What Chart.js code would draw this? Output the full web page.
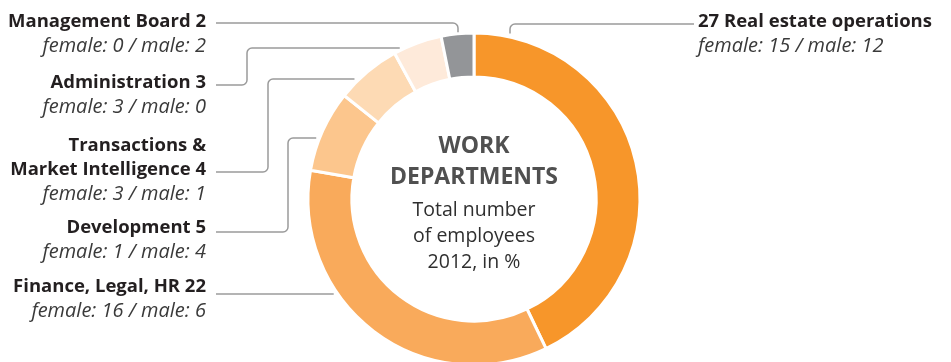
<!DOCTYPE html>
<html>
<head>
<meta charset="utf-8">
<title>Work departments</title>
<script src="https://cdn.jsdelivr.net/npm/chart.js@4.4.0/dist/chart.umd.min.js"></script>
<style>
	html, body { margin: 0; padding: 0; background: #fff; overflow: hidden; }
	canvas { display: block; }
</style>
</head>
<body>
<canvas id="depts" width="951" height="400"></canvas>
<script>
	// employees per department, clockwise from the top
	var departments = ['Real estate operations', 'Finance, Legal, HR', 'Development', 'Transactions & Market Intelligence', 'Administration', 'Management Board'];
	var employees = [27, 22, 5, 4, 3, 2];
	var female = [15, 16, 1, 3, 3, 0];
	var male = [12, 6, 4, 1, 0, 2];
	var sliceColors = ['#f7962a', '#f9aa5b', '#fcc68d', '#fddab4', '#feeada', '#939598'];

	var centerTitle = ['WORK', 'DEPARTMENTS'];
	var centerText = ['Total number', 'of employees', '2012, in %'];

	var BOLD = '700 18.5px "Open Sans"';
	var ITALIC = 'italic 20px "Open Sans"';
	var LINE = '#9b9b9b';

	function edgeX(c, y) { return c.x - Math.sqrt(c.r * c.r - (y - c.y) * (y - c.y)); }
	function edgeY(c, x) { return c.y - Math.sqrt(c.r * c.r - (x - c.x) * (x - c.x)); }

	// label block and leader line for each slice
	function labelLayout(c)
	{
		return [
			{ align: 'left', x: 698, y: 27, lines: [employees[0] + ' ' + departments[0]],
			  path: [[694, 24], [510, 24], [510, edgeY(c, 510) - 5]] },
			{ align: 'right', x: 206, y: 292, lines: [departments[1] + ' ' + employees[1]],
			  path: [[216, 294], [edgeX(c, 294) - 6, 294]] },
			{ align: 'right', x: 206, y: 233, lines: [departments[2] + ' ' + employees[2]],
			  path: [[216, 232], [288, 232], [288, 138], [edgeX(c, 138) - 5, 138]] },
			{ align: 'right', x: 206, y: 151, lines: ['Transactions &', 'Market Intelligence ' + employees[3]],
			  path: [[216, 172], [268, 172], [268, 79], [edgeX(c, 79) - 7, 79]] },
			{ align: 'right', x: 206, y: 88, lines: [departments[4] + ' ' + employees[4]],
			  path: [[216, 85], [247, 85], [247, 48], [edgeX(c, 48) - 9, 48]] },
			{ align: 'right', x: 206, y: 27, lines: [departments[5] + ' ' + employees[5]],
			  path: [[216, 23], [458, 23], [458, edgeY(c, 458) - 3]] }
		];
	}

	function drawPath(ctx, p)
	{
		ctx.beginPath();
		ctx.moveTo(p[0][0], p[0][1]);
		for (var i = 1; i < p.length - 1; i++)
			ctx.arcTo(p[i][0], p[i][1], p[i + 1][0], p[i + 1][1], 5);
		ctx.lineTo(p[p.length - 1][0], p[p.length - 1][1]);
		ctx.stroke();
	}

	var deptLabels =
	{
		id: 'deptLabels',
		afterDraw: function(chart)
		{
			var ctx = chart.ctx;
			var arc = chart.getDatasetMeta(0).data[0];
			var c = { x: arc.x, y: arc.y, r: arc.outerRadius - 1.5 };
			var layout = labelLayout(c);

			ctx.save();
			ctx.strokeStyle = LINE;
			ctx.lineWidth = 1.5;
			ctx.textBaseline = 'alphabetic';
			for (var i = 0; i < layout.length; i++)
			{
				var l = layout[i];
				drawPath(ctx, l.path);
				ctx.textAlign = l.align;
				ctx.font = BOLD;
				ctx.fillStyle = '#231f20';
				for (var j = 0; j < l.lines.length; j++)
					ctx.fillText(l.lines[j], l.x, l.y + j * 24);
				ctx.font = ITALIC;
				ctx.fillStyle = '#3a3a3a';
				ctx.fillText('female: ' + female[i] + ' / male: ' + male[i], l.x, l.y + l.lines.length * 24 + 1);
			}

			// text in the hole
			ctx.textAlign = 'center';
			ctx.font = '700 23px "Open Sans"';
			ctx.fillStyle = '#505050';
			ctx.fillText(centerTitle[0], c.x, c.y - 46);
			ctx.fillText(centerTitle[1], c.x, c.y - 15);
			ctx.font = '19.5px "Open Sans"';
			ctx.fillStyle = '#2f2f2f';
			for (var k = 0; k < centerText.length; k++)
				ctx.fillText(centerText[k], c.x, c.y + 17 + k * 26);
			ctx.restore();
		}
	};

	var myChart = new Chart(document.getElementById('depts'),
	{
		type: 'doughnut',
		data:
		{
			labels: departments,
			datasets:
			[{
				data: employees,
				backgroundColor: sliceColors,
				borderColor: '#ffffff',
				borderWidth: 3
			}]
		},
		options:
		{
			responsive: false,
			animation: false,
			events: [],
			radius: 166,
			cutout: 121,
			layout: { padding: { left: 308, right: 311, top: 33, bottom: 35 } },
			plugins:
			{
				legend: { display: false },
				tooltip: { enabled: false }
			}
		},
		plugins: [deptLabels]
	});
</script>
</body>
</html>
